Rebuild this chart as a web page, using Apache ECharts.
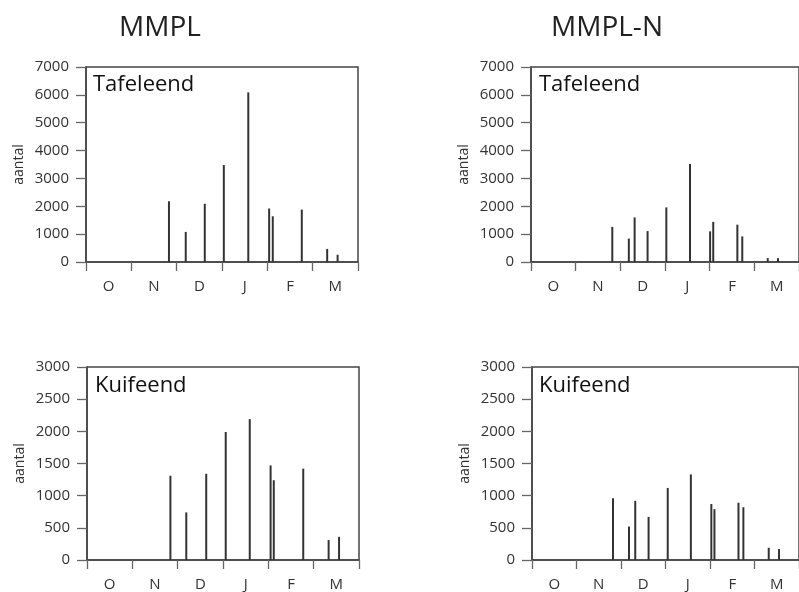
<!DOCTYPE html>
<html>
<head>
<meta charset="utf-8">
<script src="https://cdn.jsdelivr.net/npm/echarts@6/dist/echarts.min.js"></script>
<style>
    html, body { margin: 0; padding: 0; background: #fff; }
    #main { width: 799px; height: 592px; }
</style>
</head>
<body>
<div id="main"></div>
<script>
// maanden (okt - mrt)
const months = ['O', 'N', 'D', 'J', 'F', 'M'];

// telling: positie in maanden vanaf 1 oktober, aantal vogels
const mmplTafelDates = [1.83, 2.20, 2.62, 3.04, 3.58, 4.04, 4.12, 4.76, 5.32, 5.55];
const mmplTafelCounts = [2180, 1080, 2090, 3480, 6090, 1920, 1640, 1880, 470, 260];

const mmplnTafelDates = [1.82, 2.19, 2.32, 2.61, 3.03, 3.56, 4.01, 4.08, 4.62, 4.73, 5.30, 5.53];
const mmplnTafelCounts = [1260, 840, 1600, 1110, 1960, 3520, 1100, 1440, 1340, 920, 140, 140];

const mmplKuifDates = [1.84, 2.19, 2.63, 3.06, 3.59, 4.05, 4.12, 4.77, 5.33, 5.56];
const mmplKuifCounts = [1310, 740, 1340, 1990, 2190, 1470, 1240, 1420, 310, 360];

const mmplnKuifDates = [1.82, 2.18, 2.32, 2.62, 3.05, 3.57, 4.03, 4.10, 4.64, 4.75, 5.32, 5.55];
const mmplnKuifCounts = [960, 520, 920, 670, 1120, 1330, 870, 790, 890, 820, 190, 170];

const lineColor = '#444';
const textColor = '#333';
const fontFam = '"Open Sans", sans-serif';

const grids = [
    { left: 86, top: 67, width: 272, height: 195 },
    { left: 531, top: 67, width: 272, height: 195 },
    { left: 87, top: 367, width: 272, height: 193 },
    { left: 532, top: 367, width: 272, height: 193 }
];
const yMax = [7000, 7000, 3000, 3000];
const yStep = [1000, 1000, 500, 500];
const panels = [
    [mmplTafelDates, mmplTafelCounts],
    [mmplnTafelDates, mmplnTafelCounts],
    [mmplKuifDates, mmplKuifCounts],
    [mmplnKuifDates, mmplnKuifCounts]
];

const xAxis = [];
const yAxis = [];
const series = [];

grids.forEach((g, i) => {
    // zichtbare maand-as
    xAxis.push({
        type: 'category',
        gridIndex: i,
        data: months,
        boundaryGap: true,
        axisLine: { show: true, lineStyle: { color: lineColor, width: 1.5 } },
        axisTick: { show: true, length: 9, interval: 0, alignWithLabel: false, lineStyle: { color: '#666', width: 1.3 } },
        axisLabel: { margin: 17, color: textColor, fontSize: 15, fontFamily: fontFam },
        splitLine: { show: false }
    });
    // verborgen waarde-as voor de staafjes
    xAxis.push({
        type: 'value',
        gridIndex: i,
        min: 0,
        max: 6,
        show: false
    });
    yAxis.push({
        type: 'value',
        gridIndex: i,
        min: 0,
        max: yMax[i],
        interval: yStep[i],
        name: 'aantal',
        nameLocation: 'middle',
        nameGap: 60,
        nameTextStyle: { color: textColor, fontSize: 14, fontFamily: fontFam },
        axisLine: { show: true, lineStyle: { color: lineColor, width: 1.5 } },
        axisTick: { show: true, length: 10, lineStyle: { color: '#666', width: 1.3 } },
        axisLabel: { margin: 17, color: textColor, fontSize: 15, fontFamily: fontFam, formatter: v => String(v) },
        splitLine: { show: false }
    });
    series.push({
        type: 'bar',
        xAxisIndex: i * 2 + 1,
        yAxisIndex: i,
        barWidth: 2,
        itemStyle: { color: '#333' },
        data: panels[i][0].map((d, k) => [d, panels[i][1][k]])
    });
});

const chart = echarts.init(document.getElementById('main'));
chart.setOption({
    backgroundColor: '#fff',
    animation: false,
    grid: grids.map(g => Object.assign({ show: true, borderColor: lineColor, borderWidth: 1.5 }, g)),
    xAxis: xAxis,
    yAxis: yAxis,
    series: series,
    graphic: [
        { type: 'text', style: { text: 'MMPL', x: 160, y: 28, align: 'center', verticalAlign: 'middle', fill: '#222', font: '28px "Open Sans", sans-serif' } },
        { type: 'text', style: { text: 'MMPL-N', x: 607, y: 28, align: 'center', verticalAlign: 'middle', fill: '#222', font: '28px "Open Sans", sans-serif' } },
        { type: 'text', style: { text: 'Tafeleend', x: 93, y: 85, verticalAlign: 'middle', fill: '#111', font: '22px "Open Sans", sans-serif' } },
        { type: 'text', style: { text: 'Tafeleend', x: 539, y: 85, verticalAlign: 'middle', fill: '#111', font: '22px "Open Sans", sans-serif' } },
        { type: 'text', style: { text: 'Kuifeend', x: 95, y: 386, verticalAlign: 'middle', fill: '#111', font: '22px "Open Sans", sans-serif' } },
        { type: 'text', style: { text: 'Kuifeend', x: 539, y: 386, verticalAlign: 'middle', fill: '#111', font: '22px "Open Sans", sans-serif' } }
    ]
});
</script>
</body>
</html>
